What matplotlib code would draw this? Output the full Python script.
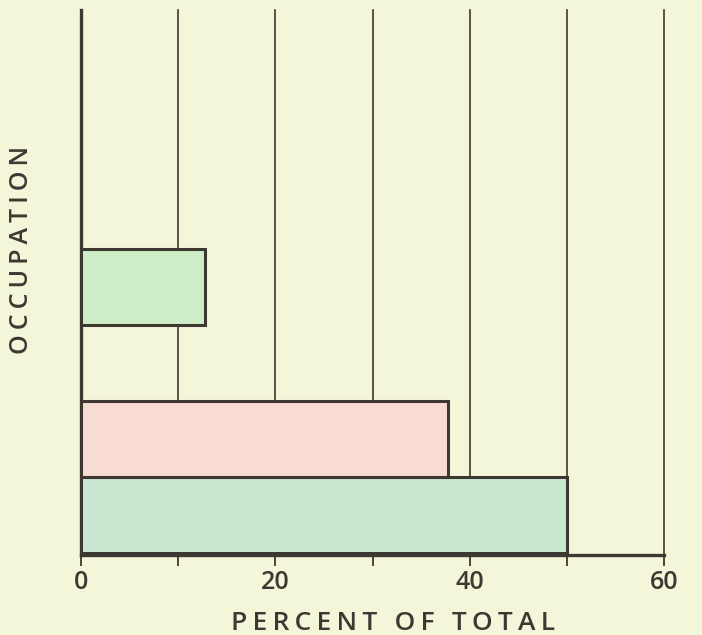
import matplotlib
matplotlib.use("Agg")
import matplotlib.pyplot as plt

# Data
positions = [0, 1, 3]              # occupation slots (bottom to top)
values = [50.0, 37.8, 12.8]        # percent of total
bar_colors = ["#c9e8d2", "#f8dcd4", "#cdeec6"]
x_ticks = [0, 10, 20, 30, 40, 50, 60]
x_tick_labels = ["0", "", "20", "", "40", "", "60"]
x_label = "PERCENT OF TOTAL"
y_label = "OCCUPATION"

bg = "#f4f6da"
ink = "#3f3731"
font = ["Open Sans", "DejaVu Sans"]


def spaced(s, sep="\u2009"):
    return sep.join(" " if c == " " else c for c in s)


fig = plt.figure(figsize=(7.02, 6.35), dpi=100, facecolor=bg)
ax = fig.add_axes([81/702, 80/635, (664-81)/702, (555-10)/635], facecolor=bg)

ax.barh(positions, values, height=1.0, color=bar_colors, edgecolor=ink,
        linewidth=2.2, zorder=3)

ax.set_xlim(0, 60)
ax.set_ylim(-0.53, 6.64)
ax.set_xticks(x_ticks)
ax.set_xticklabels(x_tick_labels, fontsize=18, color=ink, family=font,
                   weight="semibold")
ax.set_yticks([])
ax.tick_params(axis="x", direction="out", length=8, width=1.3, color=ink, pad=3)

for x in x_ticks[1:]:
    ax.axvline(x, color=ink, lw=1.2, zorder=1, clip_on=False)

for s in ["top", "right"]:
    ax.spines[s].set_visible(False)
ax.spines["left"].set_color(ink)
ax.spines["left"].set_linewidth(2.4)
ax.spines["bottom"].set_color(ink)
ax.spines["bottom"].set_linewidth(2.4)

fig.text(393/702, 1 - 623/635, spaced(x_label), ha="center",
         va="center", fontsize=19, color=ink, family=font, weight="semibold")
fig.text(22/702, 1 - 250/635, spaced(y_label), ha="center", va="center",
         rotation=90, fontsize=18, color=ink, family=font, weight="semibold")

fig.savefig("out.png", dpi=100, facecolor=bg)
